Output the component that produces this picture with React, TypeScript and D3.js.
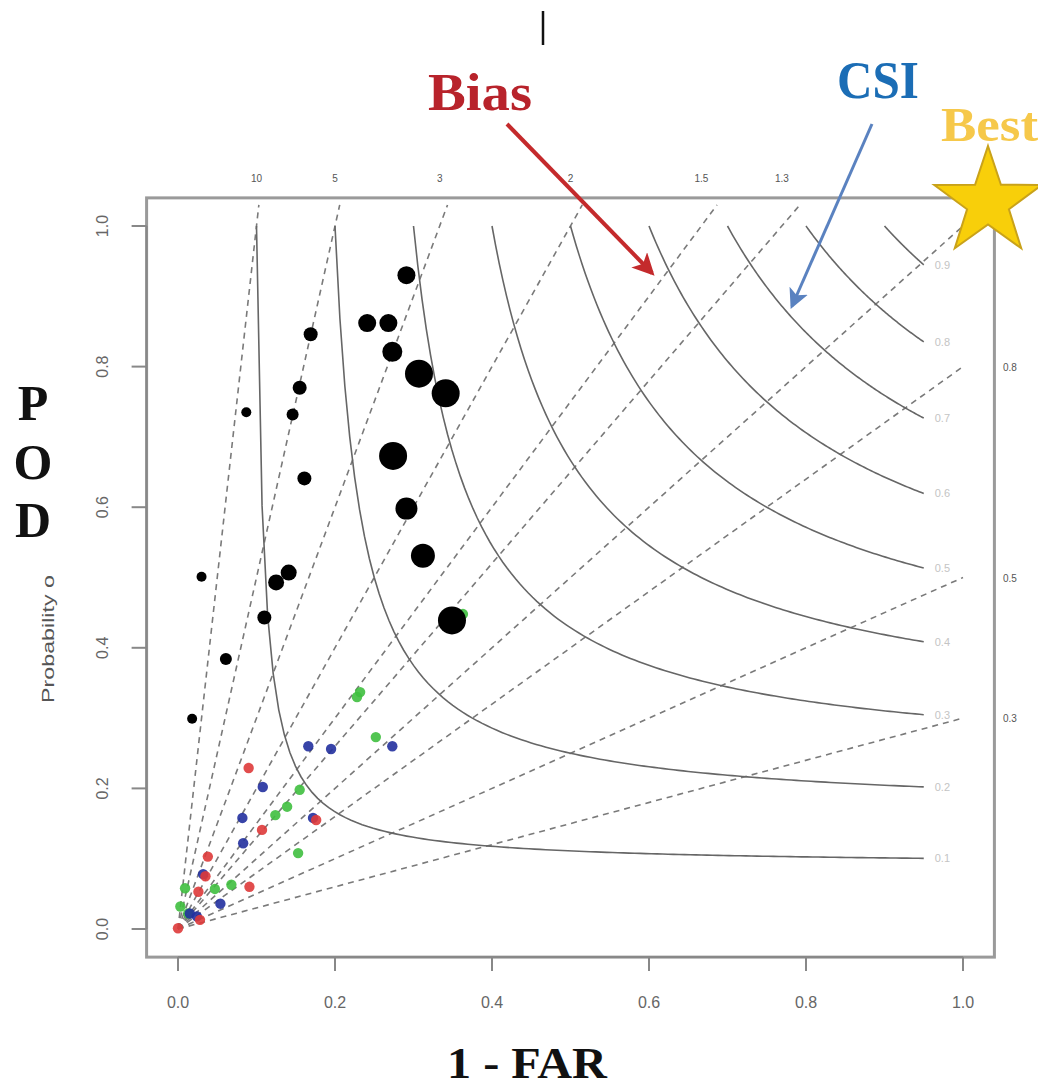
import React from 'react';
import * as d3 from 'd3';

// ---------- data ----------
const biasValues = [0.3, 0.5, 0.8, 1, 1.3, 1.5, 2, 3, 5, 10];
const biasRightLabels = ['0.3', '0.5', '0.8'];
const csiValues = [0.1, 0.2, 0.3, 0.4, 0.5, 0.6, 0.7, 0.8, 0.9];
const axisTicks = [0, 0.2, 0.4, 0.6, 0.8, 1.0];
const axisTickLabels = ['0.0', '0.2', '0.4', '0.6', '0.8', '1.0'];

// black series (success ratio, POD, sample size)
const blackSR = [0.291, 0.241, 0.268, 0.273, 0.307, 0.341, 0.169, 0.155, 0.087, 0.146, 0.274, 0.161, 0.291, 0.312, 0.349, 0.141, 0.125, 0.030, 0.110, 0.061, 0.018];
const blackPOD = [0.930, 0.862, 0.862, 0.821, 0.790, 0.762, 0.846, 0.770, 0.735, 0.732, 0.673, 0.641, 0.598, 0.531, 0.439, 0.507, 0.493, 0.501, 0.443, 0.384, 0.299];
const blackN = [81, 81, 81, 100, 196, 196, 49, 49, 25, 36, 196, 49, 121, 144, 196, 64, 64, 25, 49, 36, 25];

const greenSR = [0.363, 0.232, 0.228, 0.252, 0.155, 0.139, 0.124, 0.153, 0.009, 0.047, 0.068, 0.003, 0.013];
const greenPOD = [0.448, 0.337, 0.330, 0.273, 0.198, 0.174, 0.162, 0.108, 0.058, 0.057, 0.063, 0.032, 0.022];

const blueSR = [0.273, 0.166, 0.195, 0.108, 0.172, 0.082, 0.083, 0.032, 0.054, 0.015, 0.024];
const bluePOD = [0.260, 0.260, 0.256, 0.202, 0.158, 0.158, 0.122, 0.078, 0.036, 0.022, 0.018];

const redSR = [0.090, 0.107, 0.176, 0.038, 0.026, 0.091, 0.000, 0.028, 0.035];
const redPOD = [0.229, 0.141, 0.155, 0.103, 0.053, 0.060, 0.001, 0.013, 0.075];

const seriesColors = { green: '#3fbf3f', blue: '#22309e', red: '#de3a3a' };

export default function App() {
  const x = d3.scaleLinear().domain([0, 1]).range([178, 963]);
  const y = d3.scaleLinear().domain([0, 1]).range([929, 226]);
  const r = d3.scaleSqrt().domain([0, 196]).range([0, 14]);

  const boxL = x(-0.04), boxR = x(1.04), boxT = y(1.04), boxB = y(-0.04);

  const line = d3.line<[number, number]>().x(d => x(d[0])).y(d => y(d[1]));

  const csiCurves = csiValues.map(c => {
    const pts: [number, number][] = [];
    const n = 120;
    for (let i = 0; i <= n; i++) {
      const sr = c + (0.95 - c) * (i / n);
      const pod = 1 / (1 / c - 1 / sr + 1);
      pts.push([sr, pod]);
    }
    return { c, d: line(pts), end: pts[pts.length - 1] };
  });

  const biasLines = biasValues.map(b => {
    const end: [number, number] = b > 1 ? [1.03 / b, 1.03] : [1, b];
    return { b, d: line([[0, 0], end]) };
  });

  const starPts = (cx: number, cy: number, R: number, ri: number) => {
    const p: string[] = [];
    for (let i = 0; i < 10; i++) {
      const a = -Math.PI / 2 + (i * Math.PI) / 5;
      const rad = i % 2 === 0 ? R : ri;
      p.push(`${cx + rad * Math.cos(a)},${cy + rad * Math.sin(a)}`);
    }
    return p.join(' ');
  };

  const sans = "'Liberation Sans', Arial, sans-serif";
  const serif = "'Liberation Serif', 'Times New Roman', serif";

  const colored = [
    { sr: greenSR, pod: greenPOD, col: seriesColors.green },
    { sr: blueSR, pod: bluePOD, col: seriesColors.blue },
    { sr: redSR, pod: redPOD, col: seriesColors.red },
  ];

  return (
    <svg width={1038} height={1091} style={{ position: 'absolute', left: 0, top: 0, background: '#fff' }}>
      <defs>
        <marker id="arrRed" viewBox="0 0 12 12" refX="10" refY="6" markerWidth="22" markerHeight="22" markerUnits="userSpaceOnUse" orient="auto">
          <path d="M0,0 L12,6 L0,12 L3,6 z" fill="#c42a2c" />
        </marker>
        <marker id="arrBlue" viewBox="0 0 12 12" refX="10" refY="6" markerWidth="20" markerHeight="20" markerUnits="userSpaceOnUse" orient="auto">
          <path d="M0,0 L12,6 L0,12 L3,6 z" fill="#5a82c0" />
        </marker>
      </defs>
      <rect x={0} y={0} width={1038} height={1091} fill="#fff" />

      {/* bias lines */}
      {biasLines.map(l => (
        <path key={'b' + l.b} d={l.d || ''} fill="none" stroke="#7a7a7a" strokeWidth={1.6} strokeDasharray="6,5" />
      ))}
      {/* CSI curves */}
      {csiCurves.map(cv => (
        <path key={'c' + cv.c} d={cv.d || ''} fill="none" stroke="#666" strokeWidth={1.6} />
      ))}
      {csiCurves.map(cv => (
        <text key={'cl' + cv.c} x={x(cv.end[0]) + 11} y={y(cv.end[1]) + 4} fontSize={11} fill="#c4c4c4" fontFamily={sans}>
          {String(cv.c)}
        </text>
      ))}

      {/* colored points */}
      {colored.map((s, si) =>
        s.sr.map((v, i) => (
          <circle key={`s${si}-${i}`} cx={x(v)} cy={y(s.pod[i])} r={5.2} fill={s.col} opacity={0.9} />
        ))
      )}
      {/* black points */}
      {blackSR.map((v, i) => (
        <circle key={'k' + i} cx={x(v)} cy={y(blackPOD[i])} r={r(blackN[i])} fill="#000" />
      ))}

      {/* box */}
      <rect x={boxL} y={boxT} width={boxR - boxL} height={boxB - boxT} fill="none" stroke="#9a9a9a" strokeWidth={3} />

      {/* bias labels */}
      {biasValues.filter(b => b > 1).map(b => (
        <text key={'bt' + b} x={x(1 / b)} y={182} fontSize={10} fill="#555" textAnchor="middle" fontFamily={sans}>
          {String(b)}
        </text>
      ))}
      {biasValues.filter(b => b < 1).map(b => (
        <text key={'br' + b} x={1003} y={y(b) + 4} fontSize={10} fill="#555" fontFamily={sans}>
          {biasRightLabels.find(s => Number(s) === b)}
        </text>
      ))}

      {/* x axis */}
      <line x1={x(0)} x2={x(1)} y1={boxB} y2={boxB} stroke="#888" strokeWidth={2} />
      {axisTicks.map((t, i) => (
        <g key={'xt' + t}>
          <line x1={x(t)} x2={x(t)} y1={boxB} y2={boxB + 14} stroke="#888" strokeWidth={2} />
          <text x={x(t)} y={1008} fontSize={16} fill="#666" textAnchor="middle" fontFamily={sans}>{axisTickLabels[i]}</text>
        </g>
      ))}
      {/* y axis */}
      <line x1={boxL} x2={boxL} y1={y(0)} y2={y(1)} stroke="#888" strokeWidth={2} />
      {axisTicks.map((t, i) => (
        <g key={'yt' + t}>
          <line x1={boxL - 15} x2={boxL} y1={y(t)} y2={y(t)} stroke="#888" strokeWidth={2} />
          <text transform={`translate(${108},${y(t)}) rotate(-90)`} fontSize={16} fill="#666" textAnchor="middle" fontFamily={sans}>{axisTickLabels[i]}</text>
        </g>
      ))}

      {/* axis titles */}
      <text transform="translate(54,703) rotate(-90)" fontSize={17} fill="#555" fontFamily={sans} textLength={128} lengthAdjust="spacingAndGlyphs">Probability o</text>
      <text x={33} y={420} fontSize={50} fontWeight="bold" fontFamily={serif} textAnchor="middle" fill="#111">P</text>
      <text x={33} y={479} fontSize={50} fontWeight="bold" fontFamily={serif} textAnchor="middle" fill="#111">O</text>
      <text x={33} y={537} fontSize={50} fontWeight="bold" fontFamily={serif} textAnchor="middle" fill="#111">D</text>
      <text x={527} y={1078} fontSize={44} fontWeight="bold" fontFamily={serif} textAnchor="middle" fill="#111" textLength={160} lengthAdjust="spacingAndGlyphs">1 - FAR</text>

      {/* annotations */}
      <line x1={543} x2={543} y1={11} y2={45} stroke="#111" strokeWidth={2.5} />
      <text x={428} y={110} fontSize={52} fontWeight="bold" fontFamily={serif} fill="#b8232b" textLength={104} lengthAdjust="spacingAndGlyphs">Bias</text>
      <line x1={507} y1={124} x2={652} y2={273} stroke="#c42a2c" strokeWidth={4} markerEnd="url(#arrRed)" />
      <text x={837} y={98} fontSize={52} fontWeight="bold" fontFamily={serif} fill="#1b6db5" textLength={82} lengthAdjust="spacingAndGlyphs">CSI</text>
      <line x1={872} y1={124} x2={792} y2={306} stroke="#5a82c0" strokeWidth={3} markerEnd="url(#arrBlue)" />
      <polygon points={starPts(988, 202.5, 56.5, 22)} fill="#f8cf0a" stroke="#c9a21a" strokeWidth={2} />
      <text x={941} y={141} fontSize={48} fontWeight="bold" fontFamily={serif} fill="#f6c84a" textLength={97} lengthAdjust="spacingAndGlyphs">Best</text>
    </svg>
  );
}
